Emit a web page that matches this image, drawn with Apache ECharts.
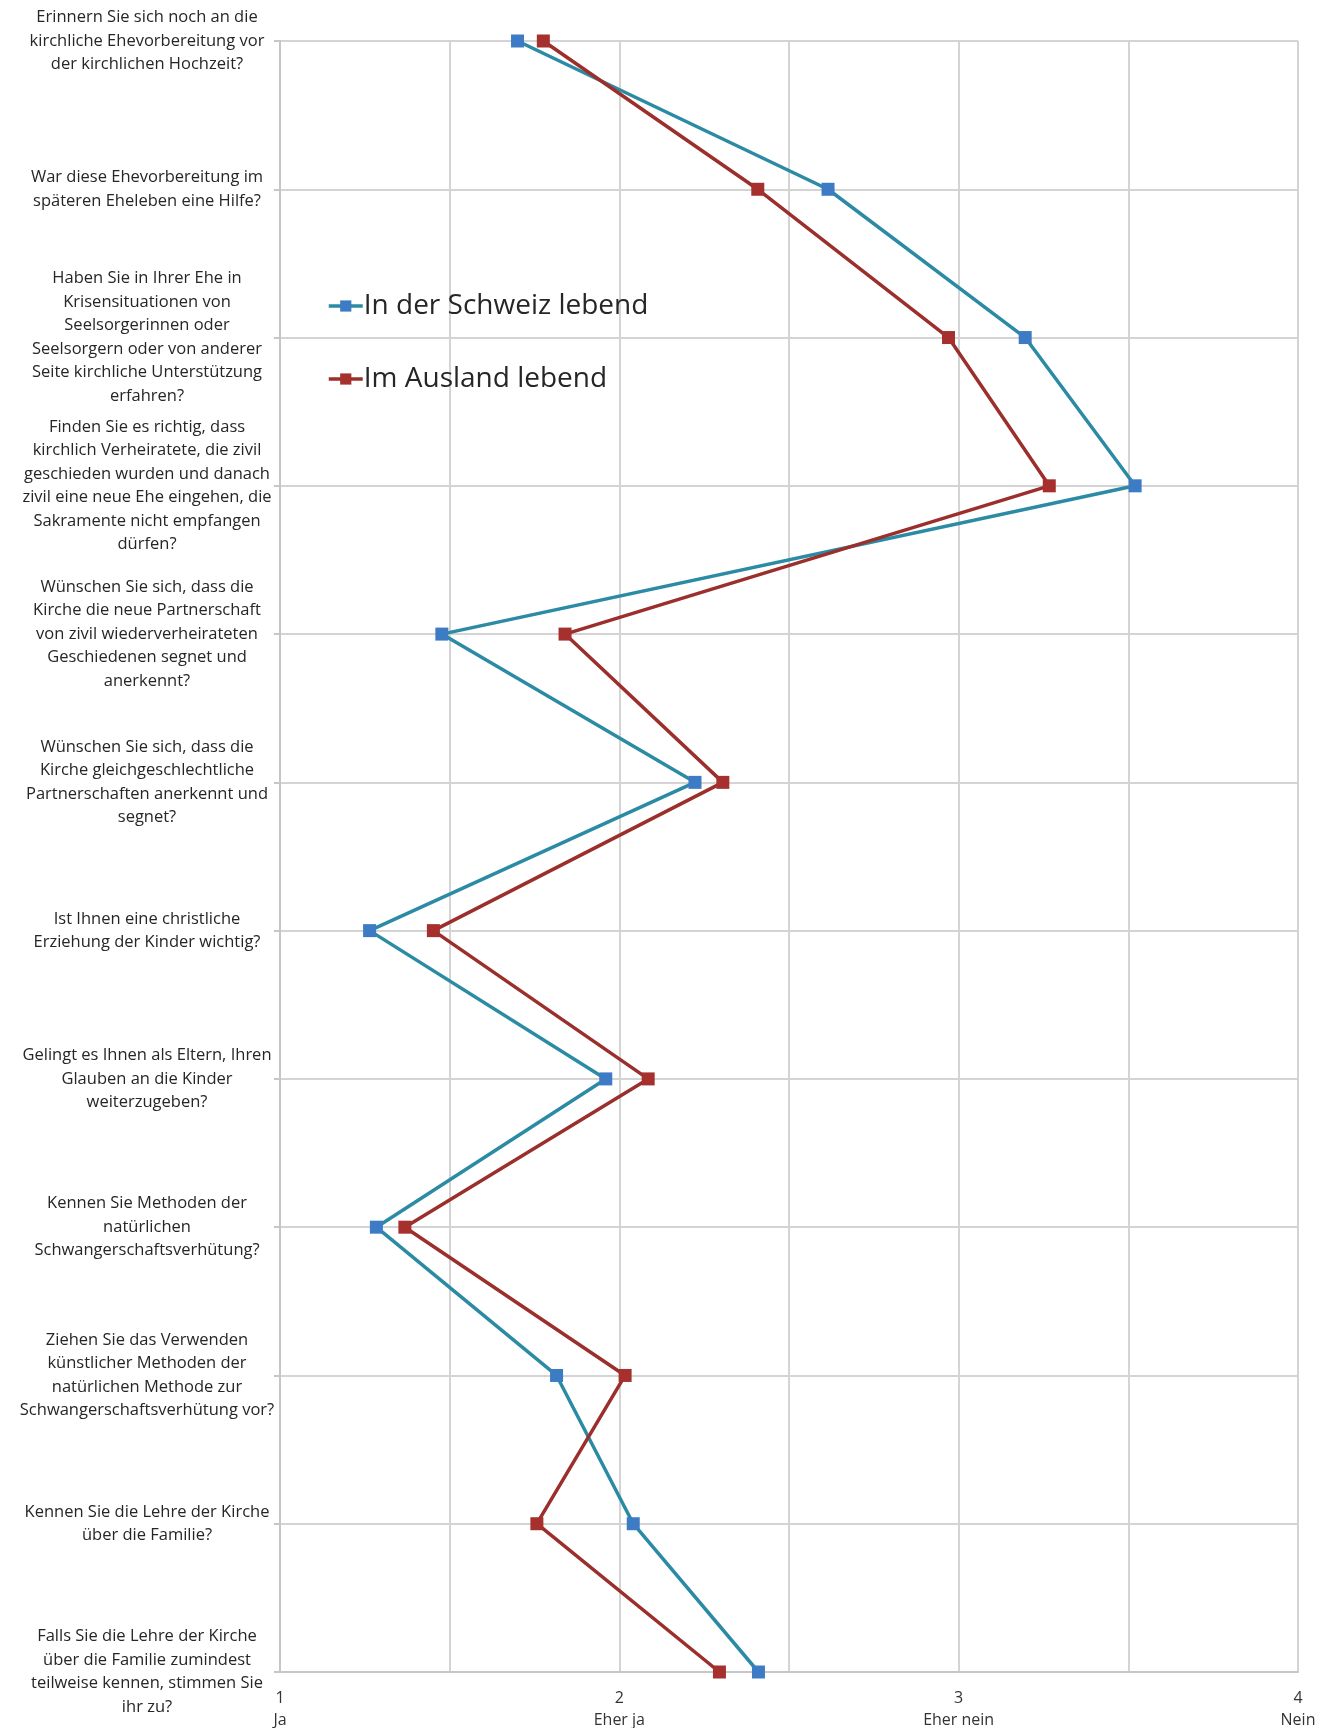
<!DOCTYPE html>
<html>
<head>
<meta charset="utf-8">
<script src="https://cdn.jsdelivr.net/npm/echarts@6/dist/echarts.min.js"></script>
<style>
  html, body { margin: 0; padding: 0; background: #ffffff; }
  #chart { width: 1329px; height: 1728px; }
</style>
</head>
<body>
<div id="chart"></div>
<script>
// Survey questions (top to bottom)
const questions = [
  "Erinnern Sie sich noch an die\nkirchliche Ehevorbereitung vor\nder kirchlichen Hochzeit?",
  "War diese Ehevorbereitung im\nspäteren Eheleben eine Hilfe?",
  "Haben Sie in Ihrer Ehe in\nKrisensituationen von\nSeelsorgerinnen oder\nSeelsorgern oder von anderer\nSeite kirchliche Unterstützung\nerfahren?",
  "Finden Sie es richtig, dass\nkirchlich Verheiratete, die zivil\ngeschieden wurden und danach\nzivil eine neue Ehe eingehen, die\nSakramente nicht empfangen\ndürfen?",
  "Wünschen Sie sich, dass die\nKirche die neue Partnerschaft\nvon zivil wiederverheirateten\nGeschiedenen segnet und\nanerkennt?",
  "Wünschen Sie sich, dass die\nKirche gleichgeschlechtliche\nPartnerschaften anerkennt und\nsegnet?",
  "Ist Ihnen eine christliche\nErziehung der Kinder wichtig?",
  "Gelingt es Ihnen als Eltern, Ihren\nGlauben an die Kinder\nweiterzugeben?",
  "Kennen Sie Methoden der\nnatürlichen\nSchwangerschaftsverhütung?",
  "Ziehen Sie das Verwenden\nkünstlicher Methoden der\nnatürlichen Methode zur\nSchwangerschaftsverhütung vor?",
  "Kennen Sie die Lehre der Kirche\nüber die Familie?",
  "Falls Sie die Lehre der Kirche\nüber die Familie zumindest\nteilweise kennen, stimmen Sie\nihr zu?"
];

// Mean answers (1 = Ja ... 4 = Nein)
const inDerSchweiz = [1.70, 2.615, 3.196, 3.520, 1.477, 2.223, 1.264, 1.960, 1.284, 1.815, 2.041, 2.410];
const imAusland    = [1.776, 2.408, 2.970, 3.267, 1.840, 2.305, 1.452, 2.085, 1.368, 2.017, 1.757, 2.295];

// Scale tick labels
const scaleLabels = { 1: "Ja", 2: "Eher ja", 3: "Eher nein", 4: "Nein" };

const seriesNames = ["In der Schweiz lebend", "Im Ausland lebend"];

const chart = echarts.init(document.getElementById('chart'), null, { renderer: 'canvas' });

const gridColor = '#d4d4d4';
const fontFamily = '"Open Sans", Lato, sans-serif';

chart.setOption({
  animation: false,
  backgroundColor: '#ffffff',
  grid: { left: 280, right: 31, top: 41, bottom: 56, containLabel: false },
  legend: {
    orient: 'vertical',
    left: 322,
    top: 285,
    itemWidth: 34,
    itemHeight: 14,
    itemGap: 41,
    lineStyle: { width: 3.5 },
    textStyle: { fontFamily: fontFamily, fontSize: 28, lineHeight: 32, color: '#262626', padding: [0, 0, 0, -4] },
    data: seriesNames
  },
  xAxis: {
    type: 'value',
    min: 1,
    max: 4,
    interval: 0.5,
    axisLine: { show: true, lineStyle: { color: '#c6c6c6', width: 2 } },
    axisTick: { show: false },
    splitLine: { show: true, lineStyle: { color: gridColor, width: 2 } },
    axisLabel: {
      margin: 15,
      showMinLabel: true,
      showMaxLabel: true,
      fontFamily: fontFamily,
      color: '#333333',
      formatter: function (v) {
        if (Math.abs(v - Math.round(v)) > 1e-6) return '';
        const r = Math.round(v);
        return '{n|' + r + '}\n{t|' + scaleLabels[r] + '}';
      },
      rich: {
        n: { fontFamily: fontFamily, fontSize: 16, lineHeight: 22, color: '#333333' },
        t: { fontFamily: fontFamily, fontSize: 16, lineHeight: 22, color: '#333333' }
      }
    }
  },
  yAxis: {
    type: 'category',
    inverse: true,
    boundaryGap: false,
    data: questions,
    axisLine: { show: true, lineStyle: { color: '#c6c6c6', width: 2 } },
    axisTick: { show: true, length: 6, lineStyle: { color: '#c6c6c6', width: 2 } },
    splitLine: { show: true, lineStyle: { color: gridColor, width: 2 } },
    axisLabel: {
      interval: 0,
      margin: 133,
      align: 'center',
      fontFamily: fontFamily,
      fontSize: 16.5,
      lineHeight: 23.5,
      color: '#262626'
    }
  },
  series: [
    {
      name: seriesNames[0],
      type: 'line',
      data: inDerSchweiz.map(function (v, i) { return [v, i]; }),
      symbol: 'rect',
      symbolSize: 13,
      lineStyle: { color: '#2b8ba4', width: 3.5 },
      itemStyle: { color: '#3d7cc4' },
      z: 2
    },
    {
      name: seriesNames[1],
      type: 'line',
      data: imAusland.map(function (v, i) { return [v, i]; }),
      symbol: 'rect',
      symbolSize: 13,
      lineStyle: { color: '#9b2f2c', width: 3.5 },
      itemStyle: { color: '#a5302d' },
      z: 3
    }
  ]
});
</script>
</body>
</html>
